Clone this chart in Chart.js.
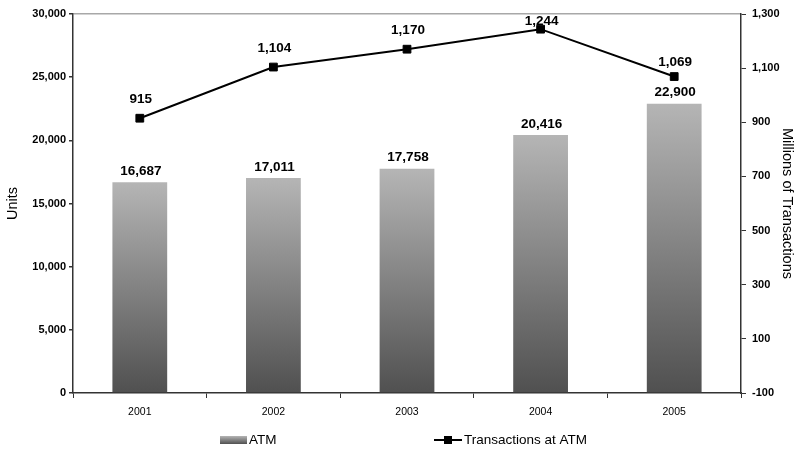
<!DOCTYPE html>
<html>
<head>
<meta charset="utf-8">
<script src="https://cdn.jsdelivr.net/npm/chart.js@4.4.1/dist/chart.umd.min.js"></script>
<style>
  html, body { margin: 0; padding: 0; background: #fff; }
  #wrap { width: 800px; height: 453px; }
</style>
</head>
<body>
<div id="wrap"><canvas id="atmChart" width="800" height="453"></canvas></div>
<script>
// ATM units and yearly transactions
var years = ['2001', '2002', '2003', '2004', '2005'];
var atmUnits = [16687, 17011, 17758, 20416, 22900];
var atmTransactions = [915, 1104, 1170, 1244, 1069];

var FONT = '"Liberation Sans", Arial, sans-serif';

function fmt(v) {
    return Number(v).toLocaleString('en-US');
}

// grey fade used for the bars, light on top
function barGradient(c, top, bottom) {
    var g = c.createLinearGradient(0, top, 0, bottom);
    g.addColorStop(0, '#b5b5b5');
    g.addColorStop(1, '#505050');
    return g;
}

// value labels above bars and line points
var lineLabelGap = [19, 19, 19, 8, 14];
var valueLabels = {
    id: 'valueLabels',
    afterDatasetsDraw: function (chart) {
        var c = chart.ctx;
        c.save();
        c.font = 'bold 13.5px ' + FONT;
        c.fillStyle = '#000';
        c.textAlign = 'center';
        c.textBaseline = 'middle';
        chart.data.datasets.forEach(function (ds, i) {
            var meta = chart.getDatasetMeta(i);
            meta.data.forEach(function (el, j) {
                var gap = ds.type === 'line' ? lineLabelGap[j] : 11;
                c.fillText(fmt(ds.data[j]), el.x + 1, el.y - gap);
            });
        });
        c.restore();
    }
};

// simple legend under the axis
var bottomLegend = {
    id: 'bottomLegend',
    afterDraw: function (chart) {
        var c = chart.ctx;
        var y = 440;
        c.save();
        c.fillStyle = barGradient(c, y - 4, y + 4);
        c.fillRect(220, y - 4, 27, 8);

        c.strokeStyle = '#000';
        c.lineWidth = 2;
        c.beginPath();
        c.moveTo(434, y);
        c.lineTo(462, y);
        c.stroke();
        c.fillStyle = '#000';
        c.fillRect(444, y - 4, 8, 8);

        c.font = '13.5px ' + FONT;
        c.textBaseline = 'middle';
        c.textAlign = 'left';
        c.fillText('ATM', 249, y);
        c.fillText('Transactions at ATM', 464, y);
        c.restore();
    }
};

var ctx = document.getElementById('atmChart').getContext('2d');

var chart = new Chart(ctx, {
    data: {
        labels: years,
        datasets: [
            {
                type: 'line',
                label: 'Transactions at ATM',
                data: atmTransactions,
                yAxisID: 'y1',
                order: 0,
                borderColor: '#000',
                borderWidth: 2,
                pointStyle: 'rect',
                pointRadius: 5.5,
                pointBackgroundColor: '#000',
                pointBorderColor: '#000',
                pointBorderWidth: 1
            },
            {
                type: 'bar',
                label: 'ATM',
                data: atmUnits,
                yAxisID: 'y',
                order: 1,
                barPercentage: 0.41,
                categoryPercentage: 1,
                backgroundColor: function (context) {
                    var ch = context.chart;
                    if (!ch.chartArea || context.raw === undefined) return '#888';
                    var ys = ch.scales.y;
                    return barGradient(ch.ctx, ys.getPixelForValue(context.raw), ys.getPixelForValue(0));
                }
            }
        ]
    },
    options: {
        responsive: false,
        animation: false,
        layout: { padding: { top: 14, left: 0, right: 0, bottom: 30 } },
        plugins: {
            legend: { display: false },
            tooltip: { enabled: false }
        },
        scales: {
            x: {
                offset: true,
                grid: { display: true, drawOnChartArea: false, offset: true, tickLength: 5, tickColor: '#333' },
                border: { color: '#333', width: 1.5 },
                ticks: { color: '#000', padding: 8, font: { family: FONT, size: 10.5 } },
                afterFit: function (s) { s.height = 30; }
            },
            y: {
                position: 'left',
                min: 0,
                max: 30000,
                ticks: {
                    stepSize: 5000,
                    color: '#000',
                    padding: 3,
                    font: { family: FONT, size: 11, weight: 'bold' },
                    callback: function (v) { return fmt(v); }
                },
                grid: {
                    tickLength: 4,
                    tickColor: '#333',
                    color: function (c) { return c.tick && c.tick.value === 30000 ? '#a8a8a8' : 'rgba(0,0,0,0)'; },
                    lineWidth: 1.5
                },
                border: { color: '#333', width: 1.5 },
                title: { display: true, text: 'Units', color: '#000', padding: 4, font: { family: FONT, size: 14.5 } },
                afterFit: function (s) { s.width = 73; }
            },
            y1: {
                position: 'right',
                min: -100,
                max: 1300,
                ticks: {
                    stepSize: 200,
                    color: '#000',
                    padding: 6,
                    font: { family: FONT, size: 11, weight: 'bold' },
                    callback: function (v) { return fmt(v); }
                },
                grid: { drawOnChartArea: false, tickLength: 5, tickColor: '#333' },
                border: { color: '#333', width: 1.5 },
                title: { display: true, text: 'Millions of Transactions', color: '#000', padding: 4, font: { family: FONT, size: 14.5 } },
                afterFit: function (s) { s.width = 59; }
            }
        }
    },
    plugins: [valueLabels, bottomLegend]
});
</script>
</body>
</html>
